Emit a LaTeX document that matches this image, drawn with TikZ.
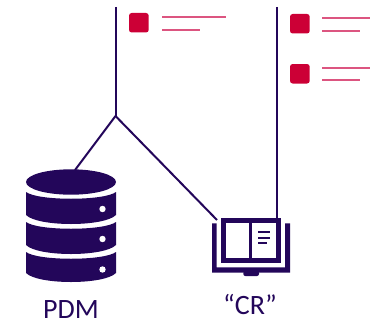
\documentclass[tikz,border=0pt]{standalone}
\usepackage{xcolor}
\usepackage{fontspec}
\setmainfont{Carlito}
\usetikzlibrary{positioning}
\definecolor{dbnavy}{HTML}{23065A}
\definecolor{itemred}{HTML}{CC0036}
\definecolor{itemline}{HTML}{DC5580}
\tikzset{
    wire/.style={line width=1.5pt, color=dbnavy},
    navyfill/.style={fill=dbnavy, draw=none},
    itembox/.style={fill=itemred, draw=none, rounded corners=2pt},
    itemrule/.style={line width=1.6pt, color=itemline},
    iconlabel/.style={color=dbnavy, font=\fontsize{21}{22}\selectfont, inner sep=0pt}
}
\begin{document}
\begin{tikzpicture}[x=0.75pt,y=-0.75pt]
                \useasboundingbox (0,0) rectangle (370,321);

                % anchors for the wires
                \coordinate (topleft) at (115.5,7);
                \coordinate (topright) at (276.5,7);
                \coordinate (fork) at (115.5,116);
                \coordinate (dbtop) at (75,170);
                \coordinate (bookcorner) at (217,220);
                \coordinate (bookspine) at (276.5,218.5);

                \draw[wire] (topleft) to (fork);
                \draw[wire] (fork) to (dbtop);
                \draw[wire] (fork) to (bookcorner);
                \draw[wire] (topright) to (bookspine);

                % list items
                \foreach \bx/\by in {129/13,290/14,290/64}{
                    \fill[itembox] (\bx,\by) rectangle ++(19.7,19.5);
                }
                \draw[itemrule] (162,16.7) to (226,16.7);
                \draw[itemrule] (162,29.7) to (200,29.7);
                \draw[itemrule] (322,18) to (370,18);
                \draw[itemrule] (322,30.7) to (360,30.7);
                \draw[itemrule] (322,67.7) to (370,67.7);
                \draw[itemrule] (322,80.3) to (360,80.3);

                % database
                \fill[navyfill] (71,182) ellipse (45 and 12.7);
                \foreach \ty/\by in {192/215,222/245,252/273}{
                    \fill[navyfill] (26,\ty)
                        .. controls (38,\ty+9) and (104,\ty+9) .. (116,\ty)
                        -- (116,\by)
                        .. controls (104,\by+12) and (38,\by+12) .. (26,\by)
                        -- cycle;
                }
                \foreach \dy in {209,239,269.5}{
                    \fill[white] (102.5,\dy) circle (3.2);
                }
                \node[iconlabel] (pdm) at (71,309.5) {PDM};

                % book
                \fill[navyfill] (220.7,218.3) rectangle (280.7,262.7);
                \fill[white] (226,222.7) rectangle (249.3,257.7);
                \fill[white] (252.3,222.7) rectangle (276,257.7);
                \fill[navyfill] (258,231.4) rectangle (270,233.2);
                \fill[navyfill] (258,236.8) rectangle (270,238.6);
                \fill[navyfill] (258,242.2) rectangle (266.7,244);
                \fill[navyfill] (212,223.3) -- (216.7,223.3) -- (216.7,267.3)
                    -- (285,267.3) -- (285,223.3) -- (290,223.3)
                    -- (290,272.7) -- (212,272.7) -- cycle;
                \fill[navyfill, rounded corners=1.5pt] (243.3,271) -- (243.3,276) -- (259,276) -- (259,271) -- cycle;
                \node[iconlabel] (cr) at (250,304) {“CR”};

            \end{tikzpicture}
\end{document}
